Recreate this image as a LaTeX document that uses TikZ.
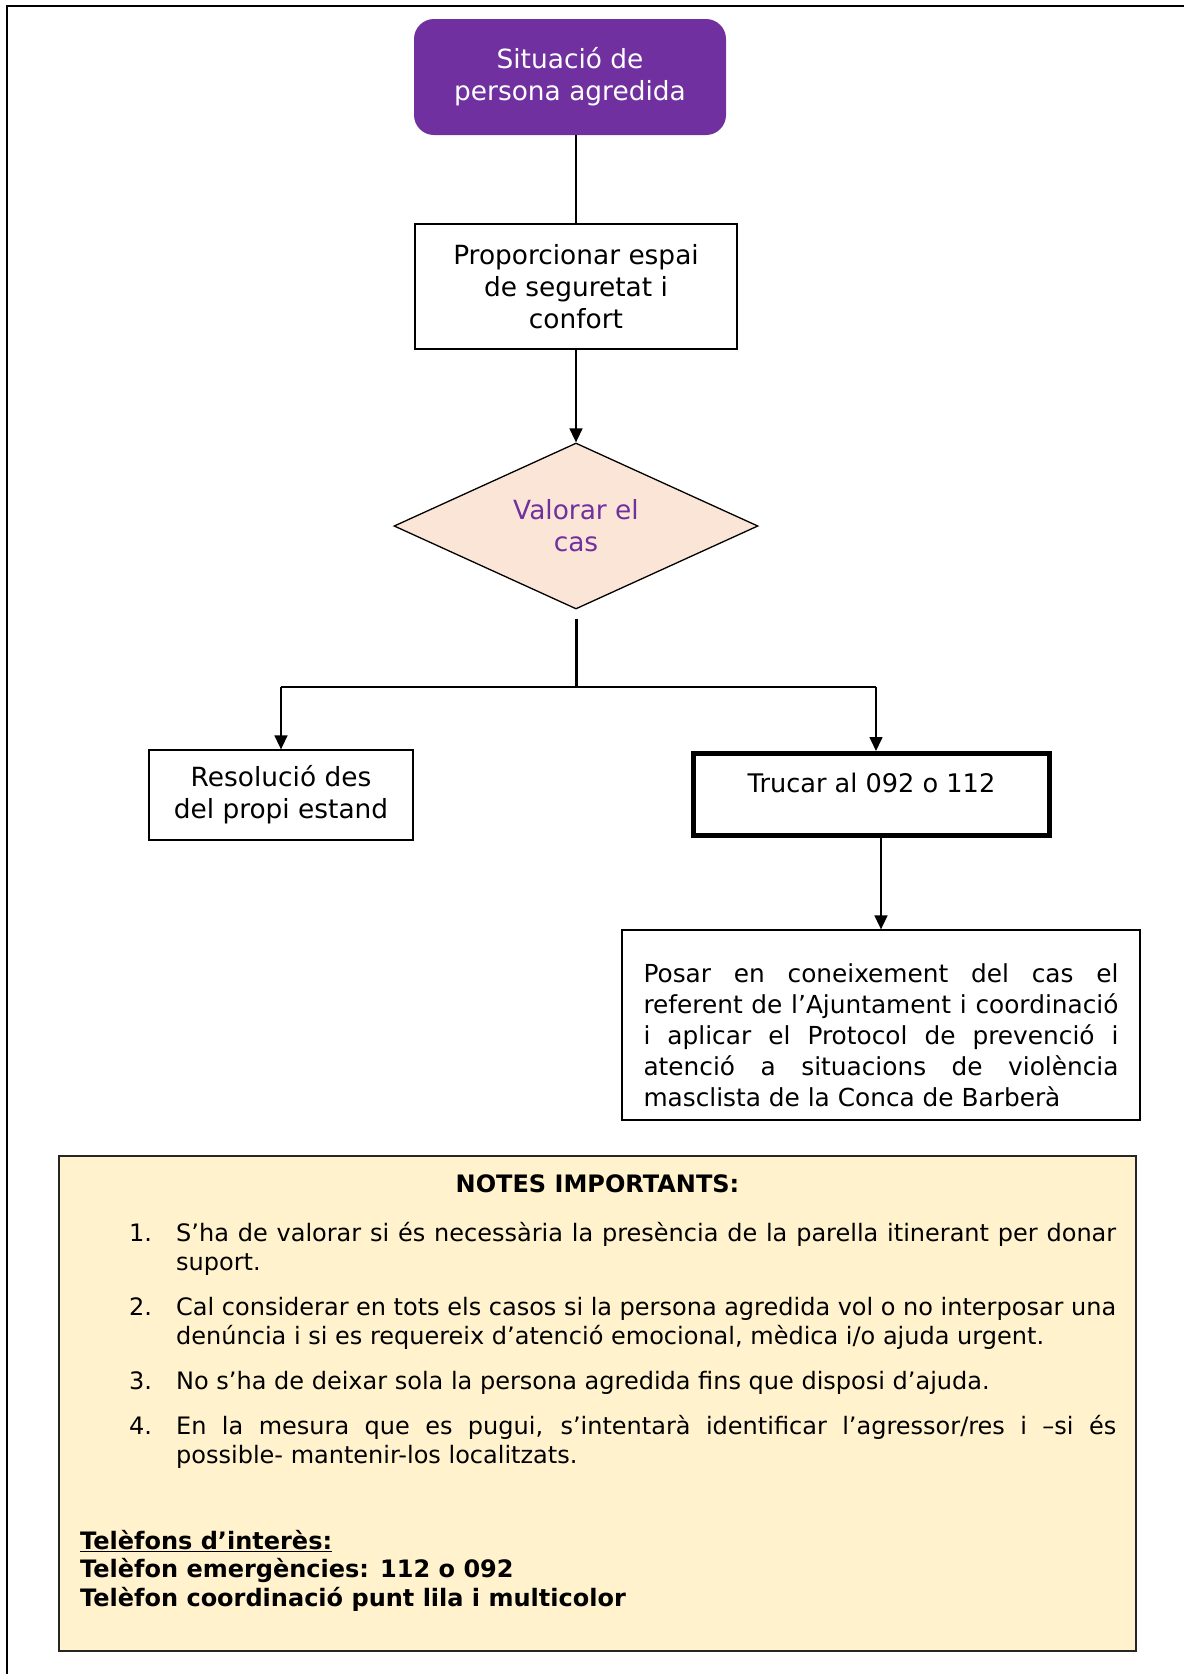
\documentclass[tikz,border=0pt]{standalone}
\usepackage{fontspec}
\setmainfont{DejaVu Sans}
\usetikzlibrary{shapes.geometric,arrows.meta}
\definecolor{purp}{HTML}{7030A0}
\definecolor{peach}{HTML}{FBE5D6}
\definecolor{notefill}{HTML}{FFF2CC}
\newcommand\jline[2]{\makebox[#1][s]{\spaceskip=0pt\xspaceskip=0pt\relax #2}}
\begin{document}
\begin{tikzpicture}[x=1pt,y=-1pt,
  boxf/.style={font=\fontsize{26.4}{32}\selectfont},
  box/.style={boxf, draw=black, line width=1.3pt, rectangle, align=center, inner sep=0pt},
  startbox/.style={boxf, fill=purp, text=white, rounded corners=20pt, align=center, inner sep=0pt,
     minimum width=312pt, minimum height=116pt},
  decision/.style={boxf, shape=diamond, draw=black, line width=1.3pt, fill=peach, text=purp,
     align=center, inner sep=0pt, shape aspect=2.2, minimum width=364pt, minimum height=166pt},
  notef/.style={font=\fontsize{24}{29}\selectfont, inner sep=0pt},
  noteb/.style={font=\fontsize{24}{29}\selectfont\bfseries, inner sep=0pt},
  arr/.style={-{Triangle[length=14pt,width=13pt]}, line width=1.6pt},
  frame/.style={line width=2.5pt, black}
]
\useasboundingbox (0,0) rectangle (1184,1674);
\draw[frame] (1184,6) -- (7,6) -- (7,1674);

% flowchart nodes
\node[startbox] (s) at (570,77) {Situació de\\persona agredida};
\node[box, minimum width=322pt, minimum height=125pt] (p) at (576,286.5) {Proporcionar espai\\de seguretat i\\confort};
\node[decision] (v) at (576,526) {Valorar el\\cas};
\node[box, minimum width=264pt, minimum height=90pt] (r) at (281,795) {Resolució des\\del propi estand};
\node[box, line width=5pt, font=\fontsize{25.6}{32}\selectfont, minimum width=356pt, minimum height=82pt,
      text height=19pt, text depth=24pt] (t) at (871.5,794.5) {Trucar al 092 o 112};
\node[box, minimum width=518pt, minimum height=190pt, text width=475pt, align=justify,
      font=\fontsize{24.8}{31}\selectfont] (k) at (881,1025)
  {\rule{0pt}{39pt}\jline{475pt}{Posar en coneixement del cas el}\\
   \jline{475pt}{referent de l’Ajuntament i coordinació}\\
   \jline{475pt}{i aplicar el Protocol de prevenció i}\\
   \jline{475pt}{atenció a situacions de violència}\\
   masclista de la Conca de Barberà};

% connectors
\coordinate (j) at (576,687);
\coordinate (jl) at (281,687);
\coordinate (jr) at (876,687);
\draw[line width=1.3pt] (s.south -| p.north) -- (p.north);
\draw[arr] (p.south) -- (v.north);
\draw[line width=3pt] ([yshift=-9pt]v.south) -- (j);
\draw[line width=2.5pt] (jl) -- (jr);
\draw[arr] (jl) -- (r.north);
\draw[arr] (jr) -- (jr |- t.north);
\draw[arr] (t.south -| k.north) -- (k.north);

% notes
\node[draw=black!85, line width=1.8pt, fill=notefill, minimum width=1077pt, minimum height=495pt, inner sep=0pt]
  (nb) at (597.5,1403.5) {};
\node[noteb, anchor=base] (nt) at (597.5,1192) {NOTES IMPORTANTS:};

\node[notef, anchor=base west] (m1) at (129,1241) {1.};
\node[notef, anchor=base west] (i1a) at (176,1241) {\jline{940pt}{S’ha de valorar si és necessària la presència de la parella itinerant per donar}};
\node[notef, anchor=base west] (i1b) at (176,1270) {suport.};

\node[notef, anchor=base west] (m2) at (129,1315) {2.};
\node[notef, anchor=base west] (i2a) at (176,1315) {\jline{940pt}{Cal considerar en tots els casos si la persona agredida vol o no interposar una}};
\node[notef, anchor=base west] (i2b) at (176,1344) {denúncia i si es requereix d’atenció emocional, mèdica i/o ajuda urgent.};

\node[notef, anchor=base west] (m3) at (129,1389) {3.};
\node[notef, anchor=base west] (i3a) at (176,1389) {No s’ha de deixar sola la persona agredida fins que disposi d’ajuda.};

\node[notef, anchor=base west] (m4) at (129,1434) {4.};
\node[notef, anchor=base west] (i4a) at (176,1434) {\jline{940pt}{En la mesura que es pugui, s’intentarà identificar l’agressor/res i –si és}};
\node[notef, anchor=base west] (i4b) at (176,1463) {possible- mantenir-los localitzats.};

\node[noteb, anchor=base west] (tel0) at (80,1549) {\underline{Telèfons d’interès:}};
\node[noteb, anchor=base west] (tel1) at (80,1577) {Telèfon emergències: 112 o 092};
\node[noteb, anchor=base west] (tel2) at (80,1606) {Telèfon coordinació punt lila i multicolor};
\end{tikzpicture}
\end{document}
